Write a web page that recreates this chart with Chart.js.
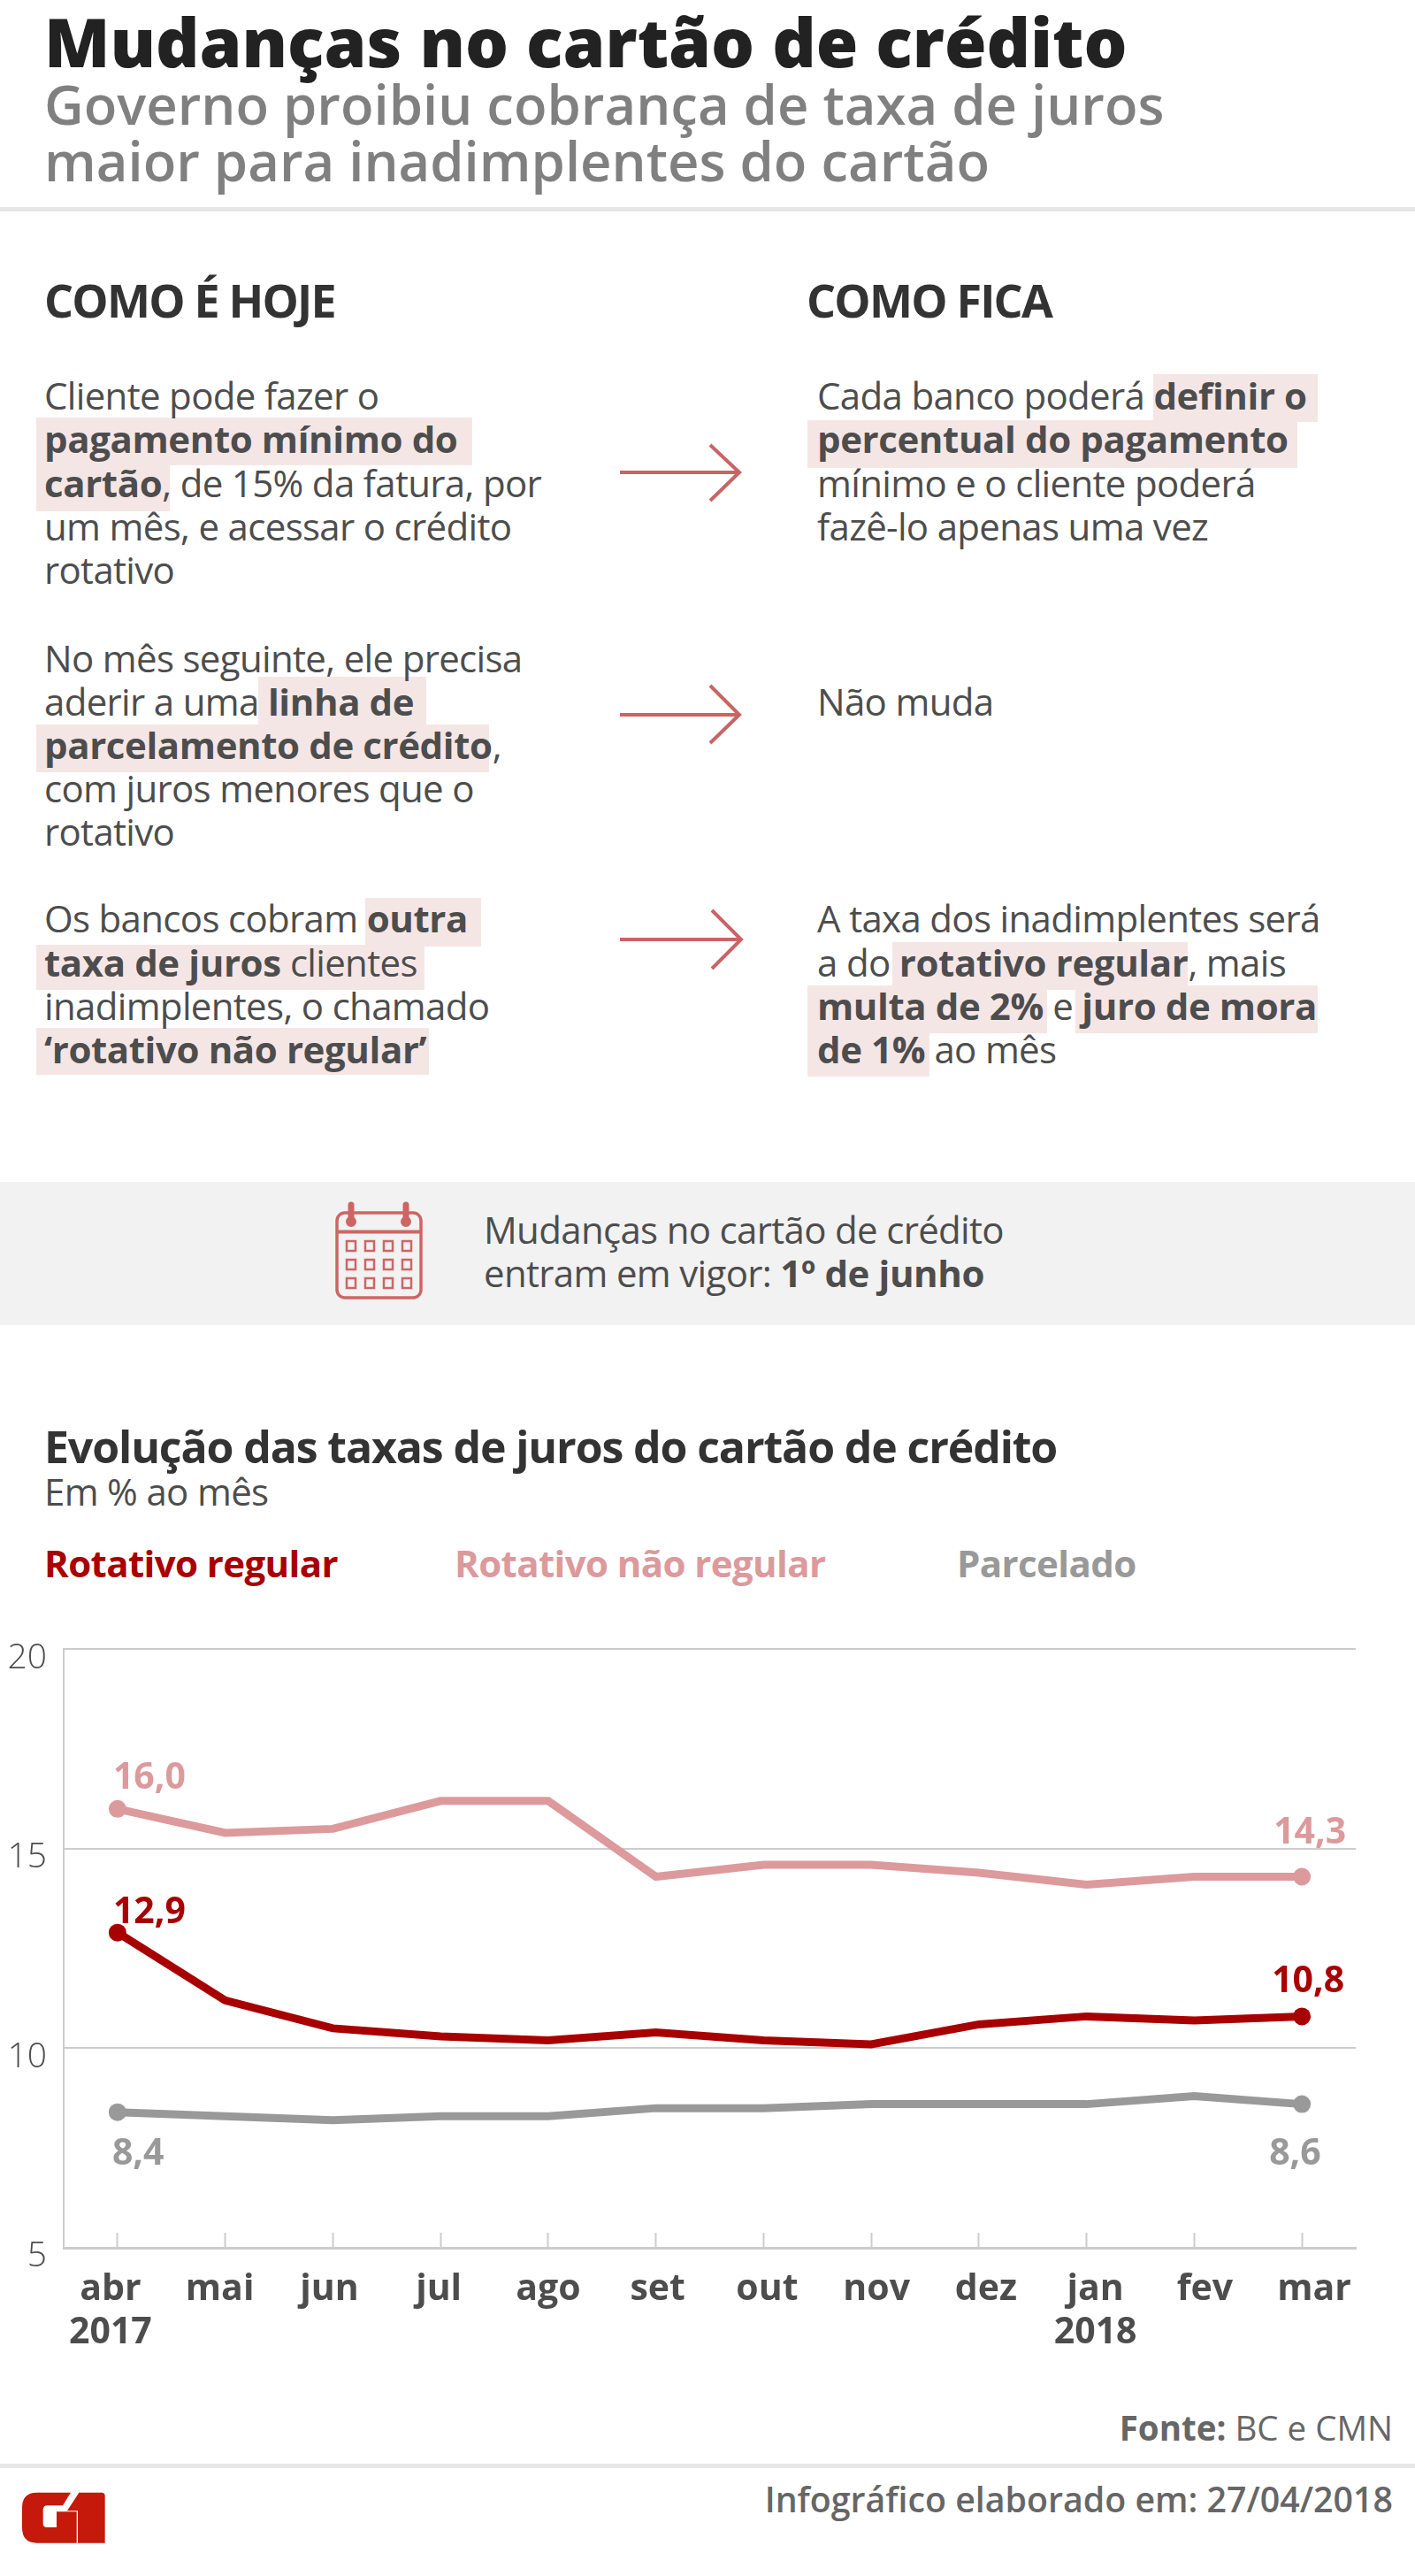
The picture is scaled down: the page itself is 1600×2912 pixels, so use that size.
<!DOCTYPE html>
<html lang="pt-BR">
<head>
<meta charset="utf-8">
<title>Mudanças no cartão de crédito</title>
<script src="https://cdn.jsdelivr.net/npm/chart.js@4"></script>
<style>
  html, body { margin: 0; padding: 0; background: #fff; }
  body { position: relative; width: 1600px; height: 2912px; overflow: hidden; font-family: "Open Sans", sans-serif; color: #4d4d4d; }
  /* --b is the text baseline in page pixels */
  .t { position: absolute; white-space: nowrap; line-height: 0; top: calc(var(--b) * 1px - .388em); }
  .body { font-size: 42px; font-weight: 400; letter-spacing: -.67px; margin-top: 1.5px; }
  .body b { font-weight: 700; letter-spacing: -.4px; }
  .l { left: 50px; }
  .r { left: 924px; }
  .hl { position: absolute; background: #f5e6e6; }
  .rule { position: absolute; left: 0; width: 1600px; height: 5px; background: #e6e6e6; }
  svg { position: absolute; }
  #chart { position: absolute; left: 0; top: 1822px; }
</style>
</head>
<body>

<div class="t" style="--b:77;left:50px;font-size:77px;font-weight:800;color:#222">Mudanças no cartão de crédito</div>
<div class="t" style="--b:141;left:50px;font-size:61.6px;font-weight:600;color:#808080">Governo proibiu cobrança de taxa de juros</div>
<div class="t" style="--b:205;left:50px;font-size:61.6px;font-weight:600;color:#808080">maior para inadimplentes do cartão</div>
<div class="rule" style="top:234px"></div>

<div class="t" style="--b:359;left:50px;font-size:52px;font-weight:700;letter-spacing:-1.8px;color:#333">COMO É HOJE</div>
<div class="t" style="--b:359;left:912px;font-size:52px;font-weight:700;letter-spacing:-1.8px;color:#333">COMO FICA</div>

<!-- highlights behind the text -->
<div class="hl" style="left:41px;top:472px;width:493px;height:54px"></div>
<div class="hl" style="left:41px;top:526px;width:151px;height:52px"></div>
<div class="hl" style="left:1304px;top:423px;width:186px;height:54px"></div>
<div class="hl" style="left:913px;top:475px;width:554px;height:54px"></div>
<div class="hl" style="left:292px;top:765px;width:190px;height:57px"></div>
<div class="hl" style="left:41px;top:819px;width:512px;height:54px"></div>
<div class="hl" style="left:413px;top:1015px;width:131px;height:55px"></div>
<div class="hl" style="left:41px;top:1068px;width:439px;height:51px"></div>
<div class="hl" style="left:41px;top:1162px;width:444px;height:53px"></div>
<div class="hl" style="left:1009px;top:1065px;width:334px;height:54px"></div>
<div class="hl" style="left:913px;top:1114px;width:271px;height:54px"></div>
<div class="hl" style="left:1216px;top:1114px;width:274px;height:54px"></div>
<div class="hl" style="left:913px;top:1168px;width:138px;height:49px"></div>

<div class="t body l" style="--b:462">Cliente pode fazer o</div>
<div class="t body l" style="--b:511"><b>pagamento mínimo do</b></div>
<div class="t body l" style="--b:561"><b>cartão</b>, de 15% da fatura, por</div>
<div class="t body l" style="--b:610">um mês, e acessar o crédito</div>
<div class="t body l" style="--b:659">rotativo</div>

<div class="t body r" style="--b:462">Cada banco poderá <b>definir o</b></div>
<div class="t body r" style="--b:511"><b>percentual do pagamento</b></div>
<div class="t body r" style="--b:561">mínimo e o cliente poderá</div>
<div class="t body r" style="--b:610">fazê-lo apenas uma vez</div>

<div class="t body l" style="--b:759">No mês seguinte, ele precisa</div>
<div class="t body l" style="--b:808">aderir a uma <b>linha de</b></div>
<div class="t body l" style="--b:857"><b>parcelamento de crédito</b>,</div>
<div class="t body l" style="--b:906">com juros menores que o</div>
<div class="t body l" style="--b:955">rotativo</div>

<div class="t body r" style="--b:808">Não muda</div>

<div class="t body l" style="--b:1053">Os bancos cobram <b>outra</b></div>
<div class="t body l" style="--b:1103"><b>taxa de juros</b> clientes</div>
<div class="t body l" style="--b:1152">inadimplentes, o chamado</div>
<div class="t body l" style="--b:1201"><b>‘rotativo não regular’</b></div>

<div class="t body r" style="--b:1053">A taxa dos inadimplentes será</div>
<div class="t body r" style="--b:1103">a do <b>rotativo regular</b>, mais</div>
<div class="t body r" style="--b:1152"><b>multa de 2%</b> e <b>juro de mora</b></div>
<div class="t body r" style="--b:1201"><b>de 1%</b> ao mês</div>

<!-- arrows -->
<svg style="left:697px;top:495px" width="150" height="80" fill="none" stroke="#c96464" stroke-width="4"><path d="M4 39H139M106 8L139 39L106 71"/></svg>
<svg style="left:697px;top:769px" width="150" height="80" fill="none" stroke="#c96464" stroke-width="4"><path d="M4 39H139M106 6L139 39L106 71"/></svg>
<svg style="left:697px;top:1023px" width="150" height="80" fill="none" stroke="#c96464" stroke-width="4"><path d="M4 39H141M108 6L141 39L108 72"/></svg>

<!-- vigência -->
<div style="position:absolute;left:0;top:1336px;width:1600px;height:162px;background:#f2f2f2"></div>
<svg style="left:360px;top:1340px" width="140" height="140" fill="none" stroke="#cd6565" stroke-width="3.5">
  <rect x="21" y="31" width="95" height="96" rx="9"/>
  <path d="M21 52.5H116" stroke-width="4"/>
  <path d="M37 22V40M99 22V40" stroke-width="7" stroke-linecap="round"/>
  <circle cx="37" cy="41" r="5" fill="#cd6565" stroke-width="2"/><circle cx="99" cy="41" r="5" fill="#cd6565" stroke-width="2"/>
  <g stroke-width="2.5">
    <rect x="32" y="63" width="10" height="11"/><rect x="53" y="63" width="10" height="11"/><rect x="74" y="63" width="10" height="11"/><rect x="95" y="63" width="10" height="11"/>
    <rect x="32" y="84" width="10" height="11"/><rect x="53" y="84" width="10" height="11"/><rect x="74" y="84" width="10" height="11"/><rect x="95" y="84" width="10" height="11"/>
    <rect x="32" y="105" width="10" height="11"/><rect x="53" y="105" width="10" height="11"/><rect x="74" y="105" width="10" height="11"/><rect x="95" y="105" width="10" height="11"/>
  </g>
</svg>
<div class="t body" style="--b:1405;left:547px">Mudanças no cartão de crédito</div>
<div class="t body" style="--b:1454;left:547px">entram em vigor: <b>1º de junho</b></div>

<!-- chart heading -->
<div class="t" style="--b:1654;left:50px;font-size:50px;font-weight:700;letter-spacing:-1.13px;color:#333">Evolução das taxas de juros do cartão de crédito</div>
<div class="t" style="--b:1702;left:50px;font-size:42px;font-weight:400;letter-spacing:-.67px">Em % ao mês</div>
<div id="legend"></div>

<canvas id="chart" width="1600" height="879"></canvas>

<!-- footer -->
<div class="t" style="--b:2759;right:25px;font-size:38.5px;font-weight:400;color:#666"><b style="font-weight:700">Fonte:</b> BC e CMN</div>
<div class="rule" style="top:2785px"></div>
<div class="t" style="--b:2840;right:25px;font-size:39.3px;font-weight:600;color:#666">Infográfico elaborado em: 27/04/2018</div>
<svg style="left:0;top:2780px" width="160" height="120" viewBox="0 0 480 360" fill="#c4190b">
  <path d="M125 113H240L213 157H160Q148 157 146 170V218Q146 231 160 231H192V178H260V284H125Q75 284 75 232V165Q75 113 125 113Z"/>
  <path d="M268 113H345Q356 113 356 124V284H264V175H228Z"/>
</svg>

<script>
const months = [['abr', '2017'], 'mai', 'jun', 'jul', 'ago', 'set', 'out', 'nov', 'dez', ['jan', '2018'], 'fev', 'mar'];
const yTicks = [5, 10, 15, 20];
const seriesNames = ['Rotativo regular', 'Rotativo não regular', 'Parcelado'];
const seriesColors = ['#a80000', '#dc9a9c', '#999999'];
const rotativoRegular = [12.9, 11.2, 10.5, 10.3, 10.2, 10.4, 10.2, 10.1, 10.6, 10.8, 10.7, 10.8];
const rotativoNaoRegular = [16.0, 15.4, 15.5, 16.2, 16.2, 14.3, 14.6, 14.6, 14.4, 14.1, 14.3, 14.3];
const parcelado = [8.4, 8.3, 8.2, 8.3, 8.3, 8.5, 8.5, 8.6, 8.6, 8.6, 8.8, 8.6];

// legend text sits above the plot, same row as in the infographic
const legendLeft = [50, 514, 1082];
const legendEl = document.getElementById('legend');
seriesNames.forEach((name, i) => {
    const el = document.createElement('div');
    el.className = 't';
    el.textContent = name;
    el.style.cssText = `--b:1783;left:${legendLeft[i]}px;font-size:42px;font-weight:700;letter-spacing:-.6px;color:${seriesColors[i]}`;
    legendEl.appendChild(el);
});

const fontFamily = '"Open Sans", sans-serif';

// first and last value of each line, offsets are from the point
const edgeLabelOffsets = [
    [[-5, -11], [-34, -27]],
    [[-5, -23], [-32, -38]],
    [[-6, 59], [-37, 68]]
];

const edgeLabels = {
    id: 'edgeLabels',
    afterDatasetsDraw(chart) {
        const ctx = chart.ctx;
        ctx.save();
        ctx.font = `700 41px ${fontFamily}`;
        ctx.textAlign = 'left';
        ctx.textBaseline = 'alphabetic';
        chart.data.datasets.forEach((ds, d) => {
            const pts = chart.getDatasetMeta(d).data;
            [0, pts.length - 1].forEach((idx, k) => {
                const off = edgeLabelOffsets[d][k];
                ctx.fillStyle = ds.borderColor;
                ctx.fillText(ds.data[idx].toFixed(1).replace('.', ','), pts[idx].x + off[0], pts[idx].y + off[1]);
            });
        });
        ctx.restore();
    }
};

// month labels run a little wider than the ticks in the original
const spreadMonthLabels = {
    id: 'spreadMonthLabels',
    beforeDraw(chart) {
        chart.scales.x.getLabelItems().forEach((item, i) => {
            if (item.spread) return;
            item.options.translation[0] += -8 + i * 2;
            item.spread = true;
        });
    }
};

new Chart(document.getElementById('chart'), {
    type: 'line',
    data: {
        labels: months,
        datasets: [rotativoRegular, rotativoNaoRegular, parcelado].map((values, i) => ({
            label: seriesNames[i],
            data: values,
            borderColor: seriesColors[i],
            backgroundColor: seriesColors[i],
            borderWidth: 9,
            tension: 0,
            borderJoinStyle: 'miter',
            pointRadius: ctx => (ctx.dataIndex === 0 || ctx.dataIndex === values.length - 1) ? 10 : 0,
            pointBorderWidth: 0,
            pointHoverRadius: 0
        }))
    },
    options: {
        responsive: false,
        animation: false,
        layout: { padding: { left: 0, right: 67, top: 25, bottom: 0 } },
        plugins: { legend: { display: false }, title: { display: false }, tooltip: { enabled: false } },
        scales: {
            x: {
                type: 'category',
                offset: true,
                afterFit: s => { s.height = 160; },
                grid: { offset: false, drawOnChartArea: false, drawTicks: true, tickLength: -17, tickWidth: 2, tickColor: '#cccccc' },
                border: { display: true, color: '#cccccc', width: 3 },
                ticks: {
                    color: '#4d4d4d',
                    autoSkip: false,
                    maxRotation: 0,
                    minRotation: 0,
                    padding: 40,
                    font: { family: fontFamily, size: 41, weight: '700', lineHeight: 1.2 }
                }
            },
            y: {
                min: 5,
                max: 20,
                afterFit: s => { s.width = 72; },
                afterBuildTicks: s => { s.ticks = yTicks.map(v => ({ value: v })); },
                grid: { color: '#cccccc', lineWidth: 2, drawTicks: false },
                border: { display: true, color: '#cccccc', width: 2 },
                ticks: {
                    color: '#4d4d4d',
                    padding: 19,
                    labelOffset: 10,
                    font: { family: fontFamily, size: 39, weight: '300' }
                }
            }
        }
    },
    plugins: [edgeLabels, spreadMonthLabels]
});
</script>
</body>
</html>
